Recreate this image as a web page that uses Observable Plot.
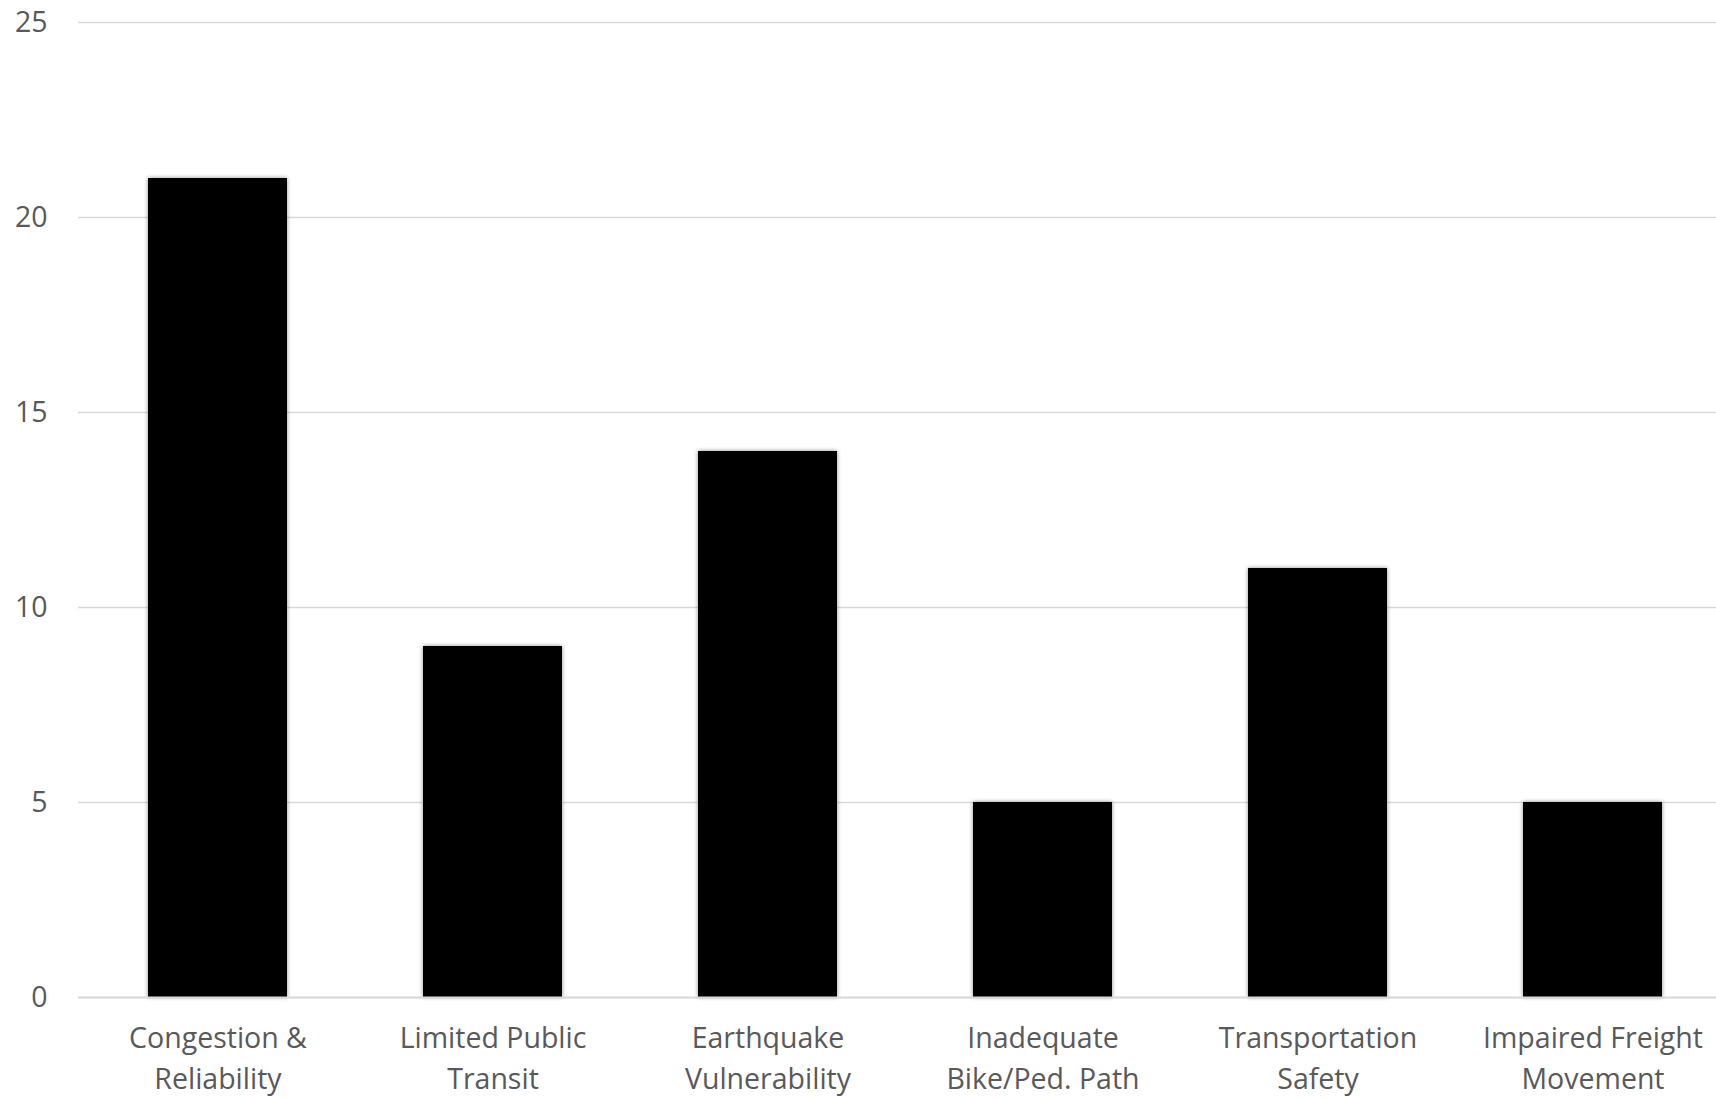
<!DOCTYPE html>
<html>
<head>
<meta charset="utf-8">
<script src="https://cdn.jsdelivr.net/npm/d3@7"></script>
<script src="https://cdn.jsdelivr.net/npm/@observablehq/plot@0.6"></script>
<style>
  html, body { margin: 0; padding: 0; background: #fff; overflow: hidden; }
  #chart svg { display: block; overflow: visible; }
  #chart g[aria-label="bar"] { filter: drop-shadow(0 0 2px rgba(0, 0, 0, 0.45)); }
</style>
</head>
<body>
<div id="chart"></div>
<script>
// Issue categories along the x axis (two-line tick labels)
const categories = [
  "Congestion & Reliability",
  "Limited Public Transit",
  "Earthquake Vulnerability",
  "Inadequate Bike/Ped. Path",
  "Transportation Safety",
  "Impaired Freight Movement"
];
const tickLines = [
  "Congestion &\nReliability",
  "Limited Public\nTransit",
  "Earthquake\nVulnerability",
  "Inadequate\nBike/Ped. Path",
  "Transportation\nSafety",
  "Impaired Freight\nMovement"
];
// Count per category
const counts = [21, 9, 14, 5, 11, 5];
// Y axis ticks
const yTicks = [0, 5, 10, 15, 20, 25];

const rows = categories.map((c, i) => ({category: c, count: counts[i]}));
const labelOf = new Map(categories.map((c, i) => [c, tickLines[i]]));

const chart = Plot.plot({
  width: 1716,
  height: 1098,
  marginTop: 22,
  marginBottom: 101,
  marginLeft: 78,
  marginRight: 0,
  style: {fontFamily: "'Open Sans', sans-serif", fontSize: "28px", color: "#595959", background: "#fff"},
  // the band range runs a little past the right edge, so the last band is clipped by the window
  x: {type: "band", domain: categories, range: [77.8, 1732.4], paddingInner: 0.494, paddingOuter: 0.247},
  y: {domain: [0, 25], ticks: yTicks},
  marks: [
    Plot.gridY(yTicks, {stroke: "#d9d9d9", strokeOpacity: 1, strokeWidth: 1.5}),
    Plot.barY(rows, {x: "category", y: "count", fill: "#000"}),
    Plot.ruleY([0], {stroke: "#d9d9d9", strokeWidth: 2}),
    Plot.axisY(yTicks, {tickSize: 0, tickPadding: 31, fill: "#595959", fontSize: 28.5, label: null}),
    Plot.axisX({tickSize: 0, tickPadding: 22, fill: "#595959", fontSize: 28.5, lineHeight: 1.42, label: null,
      tickFormat: d => labelOf.get(d)})
  ]
});
document.getElementById("chart").appendChild(chart);
</script>
</body>
</html>
